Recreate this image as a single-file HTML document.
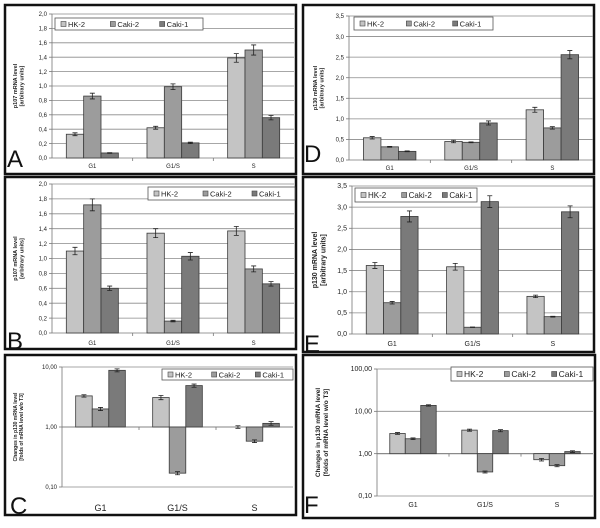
<!DOCTYPE html>
<html><head><meta charset="utf-8"><style>
html,body{margin:0;padding:0;background:#fff}
svg{display:block;font-family:"Liberation Sans",sans-serif}
</style></head><body>
<svg id="fig" width="600" height="528" viewBox="0 0 600 528"></svg>
<script>
const categories=["G1","G1/S","S"];
const seriesNames=["HK-2","Caki-2","Caki-1"];
// Panel A
const aHK=[0.33,0.42,1.39],aC2=[0.86,0.99,1.50],aC1=[0.07,0.21,0.56];
const aHKe=[0.02,0.02,0.06],aC2e=[0.04,0.04,0.07],aC1e=[0.005,0.01,0.03];
const aTicks=["0,0","0,2","0,4","0,6","0,8","1,0","1,2","1,4","1,6","1,8","2,0"];
// Panel B
const bHK=[1.10,1.34,1.37],bC2=[1.72,0.16,0.86],bC1=[0.60,1.03,0.66];
const bHKe=[0.05,0.06,0.06],bC2e=[0.08,0.01,0.04],bC1e=[0.03,0.05,0.03];
const bTicks=aTicks;
// Panel C (log)
const cHK=[3.3,3.1,1.0],cC2=[2.0,0.17,0.58],cC1=[8.8,4.9,1.15];
const cHKe=[0.15,0.25,0.05],cC2e=[0.12,0.01,0.03],cC1e=[0.5,0.3,0.08];
const cTicks=["0,10","1,00","10,00"];
// Panel D
const dHK=[0.54,0.45,1.22],dC2=[0.32,0.43,0.78],dC1=[0.21,0.90,2.56];
const dHKe=[0.03,0.03,0.06],dC2e=[0.01,0.01,0.03],dC1e=[0.01,0.05,0.1];
const dTicks=["0,0","0,5","1,0","1,5","2,0","2,5","3,0","3,5"];
// Panel E
const eHK=[1.62,1.59,0.89],eC2=[0.74,0.16,0.41],eC1=[2.78,3.13,2.89];
const eHKe=[0.07,0.08,0.03],eC2e=[0.03,0.005,0.01],eC1e=[0.13,0.14,0.14];
const eTicks=dTicks;
// Panel F (log)
const fHK=[3.0,3.6,0.72],fC2=[2.25,0.37,0.52],fC1=[13.8,3.5,1.12];
const fHKe=[0.15,0.2,0.05],fC2e=[0.1,0.02,0.03],fC1e=[0.5,0.2,0.05];
const fTicks=["0,10","1,00","10,00","100,00"];

const NS="http://www.w3.org/2000/svg";
const svg=document.getElementById("fig");
const colors=["#c4c4c4","#9c9c9c","#7a7a7a"];
function mk(tag,attrs,parent){const e=document.createElementNS(NS,tag);for(const k in attrs)e.setAttribute(k,attrs[k]);(parent||svg).appendChild(e);return e;}

function panel(p){
  const g=mk("g",{});
  
  
  const fr=mk("rect",{x:p.bx0,y:p.by0,width:p.bx1-p.bx0,height:p.by1-p.by0,fill:"#fff",stroke:"#111","stroke-width":2.5},g);
  
  
  let yf;
  if(p.log){const l0=Math.log10(p.min),l1=Math.log10(p.max);yf=v=>p.y0+(Math.log10(v)-l0)/(l1-l0)*(p.y1-p.y0);}
  else yf=v=>p.y0+(v-p.min)/(p.max-p.min)*(p.y1-p.y0);
  const n=p.ticks.length;
  for(let i=0;i<n;i++){
    const v=p.log?p.min*Math.pow(10,i):p.min+i*p.step;
    const y=yf(v);
    if(i>0||p.log){const gl=mk("line",{x1:p.x0,x2:p.x1,y1:y,y2:y,stroke:"#8a8a8a","stroke-width":0.8},g);
      
      }
    mk("line",{x1:p.x0-3,x2:p.x0,y1:y,y2:y,stroke:"#777","stroke-width":0.8},g);
    const t=mk("text",{x:p.x0-5,y:y+2.2,"font-size":p.tfs,"text-anchor":"end",fill:"#222"},g);
    t.textContent=p.ticks[i];
    
    
  }
  mk("line",{x1:p.x0,x2:p.x0,y1:p.y0,y2:p.y1,stroke:"#777","stroke-width":0.8},g);
  const base=p.log?yf(1):p.y0;
  mk("line",{x1:p.x0,x2:p.x1,y1:base,y2:base,stroke:"#777","stroke-width":0.8},g);
  const gw=(p.x1-p.x0)/3,bw=gw*0.215;
  const vals=[p.s1,p.s2,p.s3],errs=[p.e1,p.e2,p.e3];
  for(let c=0;c<3;c++){
    const cx=p.x0+gw*(c+0.5);
    if(c>0) mk("line",{x1:p.x0+gw*c,x2:p.x0+gw*c,y1:base,y2:base+3,stroke:"#777","stroke-width":0.8},g);
    const lab=mk("text",{x:cx,y:p.ly,"font-size":p.lfs,"text-anchor":"middle",fill:"#222"},g);
    lab.textContent=categories[c];
    
    
    for(let s=0;s<3;s++){
      const v=vals[s][c],e=errs[s][c];
      const x=cx+(s-1.5)*bw;
      const yv=yf(v);
      const r=mk("rect",{x:x,y:Math.min(yv,base),width:bw,height:Math.abs(base-yv),fill:colors[s],stroke:"#3a3a3a","stroke-width":0.8},g);
      
      
      const ya=yf(v+e),yb=yf(Math.max(v-e,p.log?p.min:0)),xm=x+bw/2;
      mk("path",{d:`M${xm},${ya}V${yb}M${xm-2.5},${ya}h5M${xm-2.5},${yb}h5`,stroke:"#222","stroke-width":0.8,fill:"none"},g);
    }
  }
  const L=p.leg;
  const lg=mk("g",{},g);
  
  
  mk("rect",{x:L[0],y:L[1],width:L[2]-L[0],height:L[3]-L[1],fill:"#fff",stroke:"#555","stroke-width":0.8},lg);
  const lw=(L[2]-L[0])/3,my=(L[1]+L[3])/2;
  for(let s=0;s<3;s++){
    const lx=L[0]+6+lw*s;
    const sw=mk("rect",{x:lx,y:my-2.5,width:5,height:5,fill:colors[s],stroke:"#444","stroke-width":0.6},lg);
    
    
    const lt=mk("text",{x:lx+7,y:my+3,"font-size":p.legfs,fill:"#222"},lg);
    lt.textContent=seriesNames[s];
    
    
  }
  const tx=p.tx,ty=(p.y0+p.y1)/2;
  const yt=mk("text",{transform:`translate(${tx},${ty}) rotate(-90)`,"font-size":p.yfs,"font-weight":"bold","text-anchor":"middle",fill:"#222"},g);
  
  
  const t1=mk("tspan",{x:0,dy:0},yt);t1.textContent=p.title[0];
  const t2=mk("tspan",{x:0,dy:p.yfs*1.2},yt);t2.textContent=p.title[1];
  const le=mk("text",{x:p.lx,y:p.lyy,"font-size":24,fill:"#111"},g);
  le.textContent=p.letter;
  
  
}
const t107=["p107 mRNA level","[arbitrary units]"];
const t130=["p130 mRNA level","[arbitrary units]"];
panel({letter:"A",bx0:5,by0:5,bx1:296,by1:174,x0:52,x1:294,y0:158,y1:14,min:0,max:2,step:0.2,ticks:aTicks,s1:aHK,s2:aC2,s3:aC1,e1:aHKe,e2:aC2e,e3:aC1e,leg:[55,18,203,30],tfs:6,lfs:6,legfs:7.5,yfs:5.5,ly:168,tx:17,title:t107,lx:7,lyy:167});
panel({letter:"B",bx0:5,by0:177,bx1:296,by1:349,x0:52,x1:294,y0:333,y1:184,min:0,max:2,step:0.2,ticks:bTicks,s1:bHK,s2:bC2,s3:bC1,e1:bHKe,e2:bC2e,e3:bC1e,leg:[148,187,295,200],tfs:6,lfs:6,legfs:7.5,yfs:5.5,ly:345,tx:17,title:t107,lx:7,lyy:349});
panel({letter:"C",bx0:5,by0:355,bx1:296,by1:515,x0:62,x1:293,y0:487,y1:367,log:true,min:0.1,max:10,ticks:cTicks,s1:cHK,s2:cC2,s3:cC1,e1:cHKe,e2:cC2e,e3:cC1e,leg:[162,369,293,380],tfs:6,lfs:9,legfs:7.5,yfs:5,ly:511,tx:17,title:["Changes in p130 mRNA level","[folds of mRNA level w/o T3]"],lx:10,lyy:514});
panel({letter:"D",bx0:303,by0:5,bx1:594,by1:174,x0:349,x1:593,y0:160,y1:16,min:0,max:3.5,step:0.5,ticks:dTicks,s1:dHK,s2:dC2,s3:dC1,e1:dHKe,e2:dC2e,e3:dC1e,leg:[354,17,493,30],tfs:6,lfs:6,legfs:7.5,yfs:5.5,ly:170,tx:317,title:t130,lx:304,lyy:162});
panel({letter:"E",bx0:303,by0:177,bx1:594,by1:352,x0:352,x1:593,y0:334,y1:186,min:0,max:3.5,step:0.5,ticks:eTicks,s1:eHK,s2:eC2,s3:eC1,e1:eHKe,e2:eC2e,e3:eC1e,leg:[355,188,477,202],tfs:7,lfs:7,legfs:8,yfs:7,ly:346,tx:317,title:t130,lx:304,lyy:352});
panel({letter:"F",bx0:303,by0:355,bx1:595,by1:518,x0:377,x1:593,y0:496,y1:369,log:true,min:0.1,max:100,ticks:fTicks,s1:fHK,s2:fC2,s3:fC1,e1:fHKe,e2:fC2e,e3:fC1e,leg:[451,367,593,381],tfs:7,lfs:7,legfs:8.5,yfs:6.5,ly:507,tx:320,title:["Changes in p130 mRNA level","[folds of mRNA level w/o T3]"],lx:304,lyy:513});
</script>
</body></html>
